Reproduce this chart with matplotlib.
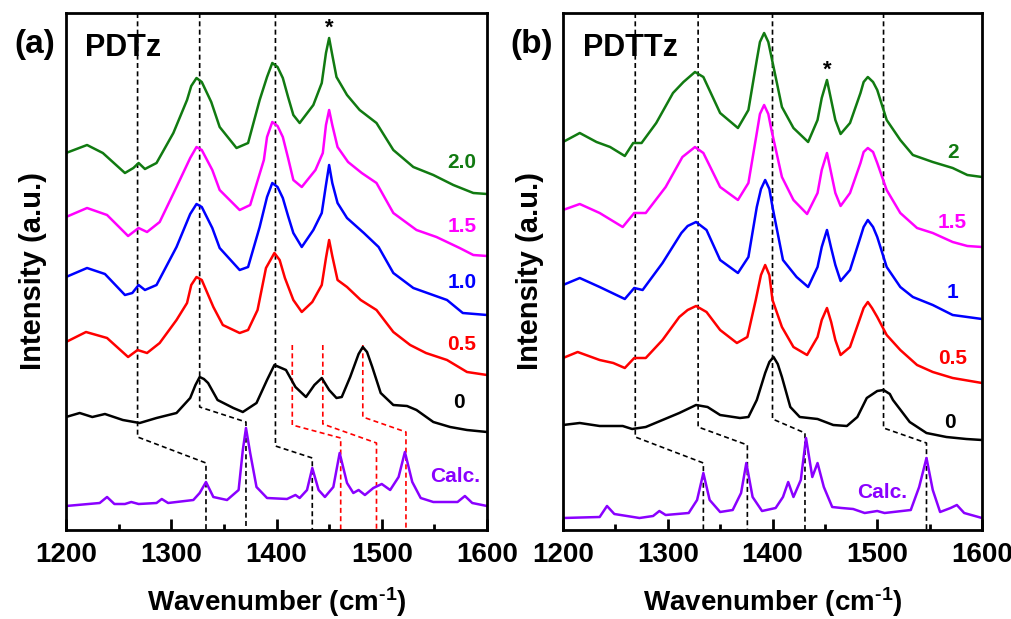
import matplotlib
matplotlib.use("Agg")
import matplotlib.pyplot as plt
from matplotlib.ticker import MultipleLocator

plt.rcParams['font.family'] = ['Liberation Sans', 'DejaVu Sans']
plt.rcParams['mathtext.fontset'] = 'custom'
plt.rcParams['mathtext.rm'] = 'Liberation Sans:bold'
plt.rcParams['mathtext.bf'] = 'Liberation Sans:bold'
plt.rcParams['mathtext.it'] = 'Liberation Sans:bold'
plt.rcParams['mathtext.sf'] = 'Liberation Sans:bold'

# ---------------- Panel (a) PDTz ----------------
a_green_x = [1200, 1220, 1235, 1256, 1264, 1269, 1275, 1286, 1302, 1315, 1319, 1324, 1329, 1338, 1346, 1362, 1373, 1384, 1391, 1396, 1401, 1406, 1411, 1416, 1422, 1435, 1443, 1447, 1450, 1453, 1457, 1467, 1479, 1495, 1511, 1530, 1549, 1568, 1587, 1600]
a_green_y = [377, 385, 377, 357, 362, 367, 361, 367, 397, 430, 444, 452, 448, 428, 403, 382, 387, 430, 453, 467, 463, 452, 433, 415, 407, 425, 447, 477, 492, 475, 453, 435, 420, 407, 380, 363, 355, 345, 337, 336]

a_mag_x = [1200, 1220, 1239, 1259, 1269, 1277, 1289, 1305, 1318, 1324, 1329, 1339, 1346, 1365, 1375, 1388, 1391, 1396, 1401, 1406, 1411, 1416, 1424, 1437, 1444, 1447, 1450, 1453, 1458, 1468, 1481, 1495, 1511, 1533, 1552, 1574, 1587, 1600]
a_mag_y = [313, 322, 315, 294, 302, 298, 308, 343, 372, 383, 380, 360, 340, 320, 325, 370, 393, 408, 404, 393, 372, 350, 343, 360, 377, 405, 420, 405, 383, 368, 357, 347, 317, 300, 293, 282, 275, 274]

a_blue_x = [1200, 1220, 1237, 1256, 1263, 1269, 1275, 1286, 1305, 1318, 1324, 1329, 1339, 1346, 1365, 1373, 1384, 1391, 1396, 1401, 1406, 1411, 1416, 1424, 1435, 1443, 1447, 1450, 1453, 1458, 1467, 1483, 1497, 1511, 1530, 1562, 1577, 1600]
a_blue_y = [253, 262, 256, 235, 237, 245, 240, 245, 283, 316, 326, 323, 302, 282, 260, 263, 303, 333, 347, 343, 332, 314, 297, 283, 300, 317, 345, 365, 347, 327, 312, 297, 283, 257, 242, 230, 217, 215]

a_red_x = [1200, 1219, 1239, 1259, 1268, 1277, 1289, 1305, 1315, 1319, 1324, 1329, 1340, 1349, 1365, 1373, 1382, 1390, 1398, 1403, 1408, 1416, 1424, 1434, 1443, 1447, 1450, 1453, 1458, 1467, 1480, 1495, 1511, 1527, 1542, 1562, 1581, 1600]
a_red_y = [188, 198, 192, 173, 180, 177, 187, 210, 227, 245, 253, 250, 223, 205, 197, 200, 220, 262, 277, 270, 252, 230, 218, 228, 245, 272, 290, 274, 250, 243, 230, 220, 198, 185, 177, 170, 158, 155]

a_black_x = [1200, 1213, 1225, 1237, 1254, 1270, 1286, 1305, 1318, 1323, 1327, 1331, 1335, 1344, 1359, 1368, 1381, 1391, 1398, 1409, 1418, 1428, 1436, 1443, 1450, 1457, 1462, 1470, 1478, 1482, 1486, 1491, 1499, 1511, 1524, 1533, 1549, 1565, 1581, 1600]
a_black_y = [113, 117, 113, 116, 110, 107, 112, 117, 132, 145, 153, 151, 147, 130, 122, 118, 127, 150, 165, 160, 143, 133, 145, 152, 140, 132, 133, 153, 176, 183, 178, 163, 137, 125, 124, 120, 108, 103, 100, 98]

a_calc_x = [1200, 1232, 1239, 1246, 1256, 1262, 1269, 1286, 1291, 1297, 1321, 1327, 1333, 1340, 1353, 1364, 1368, 1371, 1375, 1381, 1391, 1410, 1418, 1422, 1429, 1434, 1440, 1446, 1454, 1460, 1467, 1473, 1478, 1484, 1492, 1500, 1508, 1516, 1522, 1529, 1537, 1549, 1572, 1579, 1586, 1600]
a_calc_y = [24, 27, 33, 26, 26, 28, 26, 27, 31, 27, 30, 37, 48, 33, 30, 40, 80, 102, 77, 43, 32, 31, 35, 32, 40, 62, 40, 33, 43, 77, 47, 37, 40, 35, 42, 46, 40, 53, 78, 48, 32, 28, 28, 34, 27, 24]

# correlation guide lines (x, y) for panel (a)
a_black_guides = [
    ([1268, 1268, 1333, 1333], [517, 93, 67, 0]),
    ([1327, 1327, 1371, 1371], [517, 123, 108, 0]),
    ([1399, 1399, 1434, 1434], [517, 84, 72, 0]),
]
a_red_guides = [
    ([1415, 1415, 1461, 1461], [185, 105, 92, 0]),
    ([1444, 1444, 1495, 1495], [185, 106, 87, 0]),
    ([1482, 1482, 1523, 1523], [185, 113, 98, 0]),
]
a_labels = ["2.0", "1.5", "1.0", "0.5", "0", "Calc."]

# ---------------- Panel (b) PDTTz ----------------
b_green_x = [1200, 1216, 1232, 1245, 1259, 1267, 1275, 1289, 1305, 1315, 1326, 1334, 1350, 1367, 1377, 1385, 1388, 1392, 1396, 1399, 1409, 1420, 1434, 1443, 1447, 1452, 1456, 1460, 1465, 1474, 1484, 1487, 1491, 1496, 1500, 1509, 1522, 1534, 1553, 1572, 1586, 1600]
b_green_y = [388, 397, 388, 383, 374, 387, 387, 407, 437, 448, 458, 453, 417, 402, 420, 470, 488, 497, 488, 473, 423, 402, 388, 410, 432, 450, 430, 410, 396, 407, 437, 448, 453, 448, 440, 410, 390, 375, 368, 362, 355, 353]

b_mag_x = [1200, 1216, 1235, 1257, 1268, 1279, 1298, 1314, 1326, 1334, 1350, 1367, 1377, 1385, 1388, 1392, 1396, 1399, 1409, 1420, 1433, 1443, 1447, 1452, 1456, 1460, 1465, 1474, 1484, 1487, 1491, 1496, 1500, 1509, 1522, 1538, 1553, 1572, 1586, 1600]
b_mag_y = [320, 326, 317, 303, 317, 317, 343, 373, 383, 377, 343, 330, 347, 397, 416, 425, 416, 400, 353, 330, 316, 337, 360, 377, 357, 337, 324, 337, 367, 378, 382, 378, 367, 340, 317, 302, 297, 288, 284, 283]

b_blue_x = [1200, 1216, 1235, 1259, 1268, 1276, 1295, 1313, 1319, 1327, 1337, 1350, 1367, 1377, 1385, 1389, 1393, 1397, 1400, 1410, 1423, 1434, 1443, 1447, 1452, 1456, 1460, 1465, 1474, 1484, 1487, 1491, 1496, 1500, 1509, 1522, 1534, 1553, 1572, 1600]
b_blue_y = [245, 252, 243, 231, 242, 240, 267, 297, 304, 308, 300, 270, 257, 273, 323, 341, 350, 341, 323, 270, 253, 243, 263, 283, 300, 282, 265, 249, 260, 293, 303, 310, 303, 293, 263, 243, 233, 225, 215, 211]

b_red_x = [1200, 1214, 1235, 1248, 1259, 1268, 1279, 1295, 1311, 1319, 1327, 1337, 1350, 1366, 1376, 1384, 1389, 1393, 1397, 1400, 1409, 1420, 1433, 1443, 1447, 1452, 1456, 1460, 1465, 1474, 1484, 1487, 1491, 1495, 1500, 1509, 1522, 1538, 1553, 1572, 1600]
b_red_y = [172, 178, 170, 167, 162, 172, 172, 190, 213, 220, 224, 218, 200, 187, 193, 230, 255, 265, 255, 230, 203, 183, 175, 193, 210, 222, 208, 190, 175, 183, 213, 222, 228, 222, 213, 195, 180, 165, 158, 152, 147]

b_black_x = [1200, 1216, 1235, 1257, 1266, 1279, 1295, 1311, 1327, 1338, 1350, 1369, 1377, 1385, 1393, 1397, 1401, 1405, 1409, 1417, 1426, 1443, 1458, 1471, 1481, 1490, 1500, 1506, 1512, 1515, 1531, 1547, 1566, 1585, 1600]
b_black_y = [105, 107, 104, 104, 101, 103, 110, 117, 125, 123, 115, 112, 113, 130, 157, 168, 173, 166, 153, 123, 113, 111, 105, 104, 113, 132, 139, 140, 136, 130, 108, 97, 93, 91, 90]

b_calc_x = [1200, 1235, 1242, 1249, 1273, 1286, 1292, 1298, 1320, 1328, 1334, 1340, 1350, 1362, 1370, 1375, 1381, 1390, 1403, 1410, 1415, 1420, 1427, 1432, 1438, 1443, 1449, 1457, 1466, 1477, 1488, 1500, 1507, 1532, 1540, 1547, 1553, 1560, 1570, 1576, 1583, 1600]
b_calc_y = [12, 13, 24, 16, 12, 14, 19, 15, 17, 30, 57, 30, 18, 20, 37, 67, 33, 19, 22, 33, 48, 33, 50, 92, 53, 67, 43, 23, 22, 21, 17, 19, 17, 20, 43, 72, 40, 18, 22, 25, 17, 12]

b_black_guides = [
    ([1269, 1269, 1334, 1334], [517, 93, 67, 0]),
    ([1329, 1329, 1376, 1376], [517, 103, 85, 0]),
    ([1400, 1400, 1431, 1431], [517, 111, 97, 0]),
    ([1506, 1506, 1547, 1547], [517, 102, 87, 0]),
]
b_labels = ["2", "1.5", "1", "0.5", "0", "Calc."]

colors = ['#117a11', '#ff00ff', '#0000ff', '#ff0000', '#000000', '#8a00ff']

fig = plt.figure(figsize=(10.12, 6.19), dpi=100)
axA = fig.add_axes([66/1012, 1-530/619, 421/1012, 517/619])
axB = fig.add_axes([563/1012, 1-530/619, 419/1012, 517/619])

def style(ax):
    ax.set_xlim(1200, 1600)
    ax.set_ylim(0, 517)
    ax.set_yticks([])
    ax.xaxis.set_major_locator(MultipleLocator(100))
    ax.xaxis.set_minor_locator(MultipleLocator(50))
    ax.tick_params(axis='x', which='major', direction='in', length=8, width=2, labelsize=20, pad=9, top=False)
    ax.tick_params(axis='x', which='minor', direction='in', length=4, width=2, top=False)
    for lab in ax.get_xticklabels():
        lab.set_fontweight('bold')
    for s in ax.spines.values():
        s.set_linewidth(2)
    ax.set_xlabel(r'Wavenumber (cm$^{\text{-1}}$)', fontsize=20, fontweight='bold', labelpad=12)
    ax.set_ylabel('Intensity (a.u.)', fontsize=21, fontweight='bold', labelpad=14)

dash = (0, (3, 2))

# Panel A
series_a = [(a_green_x, a_green_y), (a_mag_x, a_mag_y), (a_blue_x, a_blue_y),
            (a_red_x, a_red_y), (a_black_x, a_black_y), (a_calc_x, a_calc_y)]
for gx, gy in a_black_guides:
    axA.plot(gx, gy, color='black', lw=1.2, ls=dash, zorder=1)
for gx, gy in a_red_guides:
    axA.plot(gx, gy, color='red', lw=1.2, ls=dash, zorder=1)
for (x, y), c in zip(series_a, colors):
    axA.plot(x, y, color=c, lw=1.8, zorder=2, solid_joinstyle='round')
a_lab_pos = [(1590, 368), (1590, 303), (1590, 248), (1590, 185), (1579, 128), (1593, 53)]
for t, (lx, ly), c in zip(a_labels, a_lab_pos, colors):
    axA.text(lx, ly, t, color=c, fontsize=15, fontweight='bold', ha='right', va='center')
axA.text(1450, 502, '*', fontsize=16, fontweight='bold', ha='center', va='center')
axA.text(1218, 482, 'PDTz', fontsize=22, fontweight='bold', ha='left', va='center')
style(axA)

# Panel B
series_b = [(b_green_x, b_green_y), (b_mag_x, b_mag_y), (b_blue_x, b_blue_y),
            (b_red_x, b_red_y), (b_black_x, b_black_y), (b_calc_x, b_calc_y)]
for gx, gy in b_black_guides:
    axB.plot(gx, gy, color='black', lw=1.2, ls=dash, zorder=1)
for (x, y), c in zip(series_b, colors):
    axB.plot(x, y, color=c, lw=1.8, zorder=2, solid_joinstyle='round')
b_lab_pos = [(1572, 377), (1572, 308), (1572, 237), (1572, 171), (1569, 107), (1505, 37)]
for t, (lx, ly), c in zip(b_labels, b_lab_pos, colors):
    axB.text(lx, ly, t, color=c, fontsize=15, fontweight='bold', ha='center', va='center')
axB.text(1452, 460, '*', fontsize=16, fontweight='bold', ha='center', va='center')
axB.text(1219, 482, 'PDTTz', fontsize=22, fontweight='bold', ha='left', va='center')
style(axB)

fig.text(35/1012, 1-45/619, '(a)', fontsize=24, fontweight='bold', ha='center', va='center')
fig.text(532/1012, 1-45/619, '(b)', fontsize=24, fontweight='bold', ha='center', va='center')

fig.savefig('out.png', dpi=100)
